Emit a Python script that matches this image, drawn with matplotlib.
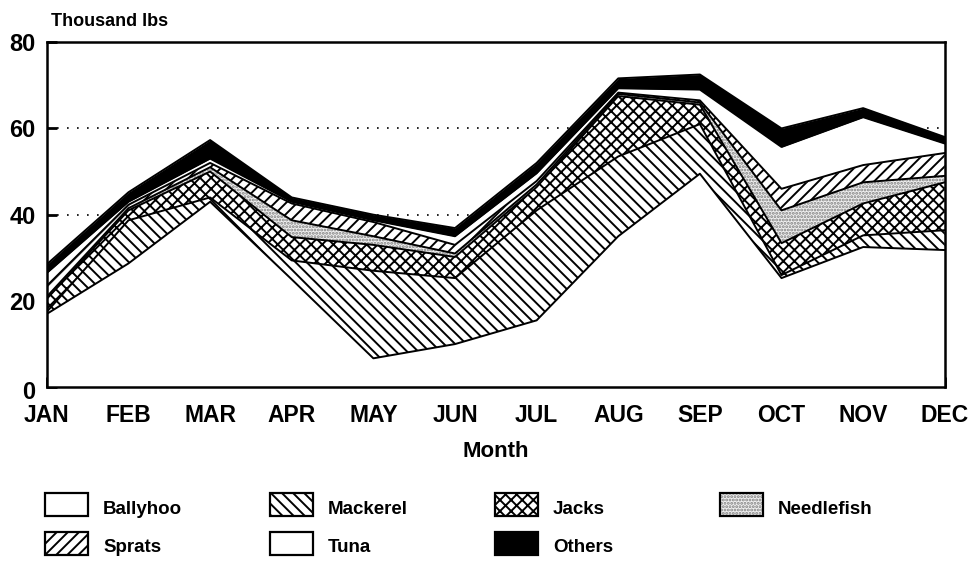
import numpy as np
import matplotlib
matplotlib.use("Agg")
import matplotlib.pyplot as plt
import matplotlib.transforms as mtrans
from matplotlib.patches import Rectangle

plt.rcParams["font.family"] = ["Liberation Sans", "DejaVu Sans"]
plt.rcParams["font.weight"] = "bold"
plt.rcParams["hatch.linewidth"] = 1.4

# datos (miles de libras por mes)
months = ["JAN", "FEB", "MAR", "APR", "MAY", "JUN",
          "JUL", "AUG", "SEP", "OCT", "NOV", "DEC"]

ballyhoo = [17, 28.7, 43, 25, 6.7, 10, 15.5, 35, 49.5, 25.3, 32.5, 31.8]
mackerel = [0.5, 10, 1, 4.4, 20.3, 15.3, 25.5, 18.5, 11.5, 0.7, 2.7, 4.6]
jacks = [3, 2.3, 6, 5.4, 6, 4.9, 5.4, 14, 4.5, 7.4, 7.4, 11.1]
needlefish = [0.5, 0.5, 1, 3.9, 2, 0.8, 0.6, 0.5, 0.5, 7.6, 4.9, 1.5]
sprats = [2.5, 0.8, 1, 3.9, 3.3, 2, 0.8, 0.3, 0.5, 5, 4, 5.3]
tuna = [3, 0.7, 1, 0.4, 0.4, 2, 1.8, 1, 2.5, 9.7, 11.1, 2.2]
others = [2, 2.2, 4.3, 1, 1.3, 1.9, 2.4, 2.3, 3.5, 4.3, 2.1, 1.5]

# nombre, valores, relleno, trama, color de trama
series = [
    ("Ballyhoo", ballyhoo, "white", None, "black"),
    ("Mackerel", mackerel, "white", "\\\\\\", "black"),
    ("Jacks", jacks, "white", "xxx", "black"),
    ("Needlefish", needlefish, "#f0f0f0", ".....", "#808080"),
    ("Sprats", sprats, "white", "///", "black"),
    ("Tuna", tuna, "white", None, "black"),
    ("Others", others, "black", None, "black"),
]

fig = plt.figure(figsize=(9.76, 5.62), dpi=100)
ax = fig.add_axes([0.048, 0.311, 0.92, 0.614])

x = np.arange(len(months))
base = np.zeros(len(months))
for name, vals, fc, hatch, hc in series:
    top = base + np.array(vals)
    ax.fill_between(x, base, top, facecolor=fc, edgecolor=hc,
                    hatch=hatch, linewidth=0, zorder=2)
    ax.plot(x, top, color="black", linewidth=1.4, zorder=3)
    base = top

ax.set_xlim(0, 11)
ax.set_ylim(0, 80)
ax.set_xticks(x)
ax.set_xticklabels(months, fontsize=16.5, fontweight="bold")
ax.set_yticks([0, 20, 40, 60, 80])
ax.set_yticklabels(["0", "20", "40", "60", "80"], fontsize=17, fontweight="bold")
ax.tick_params(axis="x", direction="in", length=7, width=2, pad=12)
ax.tick_params(axis="y", direction="in", length=7, width=2, pad=8)
# el "0" queda un poco por debajo del eje en el original
lab0 = ax.get_yticklabels()[0]
lab0.set_transform(lab0.get_transform() +
                   mtrans.ScaledTranslation(0, -3 / 100, fig.dpi_scale_trans))

for y in [20, 40, 60]:
    ax.axhline(y, color="black", linestyle=(0, (1, 5)), linewidth=1.2, zorder=1)

for sp in ax.spines.values():
    sp.set_linewidth(1.8)
    sp.set_zorder(4)

ax.set_xlabel("Month", fontsize=16, fontweight="bold", labelpad=10)
fig.text(0.052, 0.962, "Thousand lbs", fontsize=13, fontweight="bold",
         ha="left", va="center")

# leyenda manual en dos filas
col_x = [45, 270, 495, 720]
row_y = [505, 544]
for i, (name, vals, fc, hatch, hc) in enumerate(series):
    r, c = divmod(i, 4)
    px, py = col_x[c], row_y[r]
    fig.add_artist(Rectangle((px / 976, 1 - (py + 11) / 562), 43 / 976, 23 / 562,
                             transform=fig.transFigure, facecolor=fc,
                             edgecolor=hc, hatch=hatch, linewidth=0))
    fig.add_artist(Rectangle((px / 976, 1 - (py + 11) / 562), 43 / 976, 23 / 562,
                             transform=fig.transFigure, facecolor="none",
                             edgecolor="black", linewidth=1.6))
    fig.text((px + 58) / 976, 1 - (py + 4) / 562, name, fontsize=13.5,
             fontweight="bold", ha="left", va="center")

fig.savefig("out.png", dpi=100)
